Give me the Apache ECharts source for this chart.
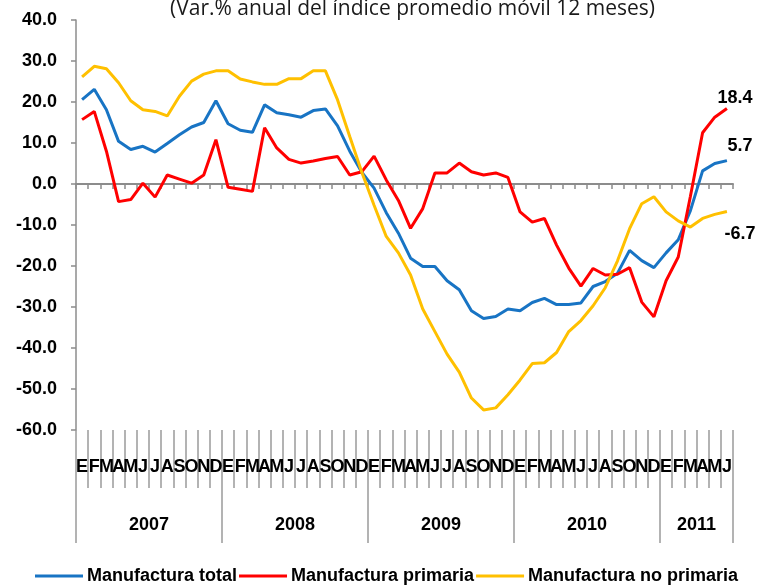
<!DOCTYPE html>
<html>
<head>
<meta charset="utf-8">
<script src="https://cdn.jsdelivr.net/npm/echarts@6/dist/echarts.min.js"></script>
<style>
html,body{margin:0;padding:0;background:#fff;}
#chart{width:757px;height:586px;}
</style>
</head>
<body>
<div id="chart"></div>
<script>
// meses ene-2007 .. jun-2011
const months = [
    'E','F','M','A','M','J','J','A','S','O','N','D',
    'E','F','M','A','M','J','J','A','S','O','N','D',
    'E','F','M','A','M','J','J','A','S','O','N','D',
    'E','F','M','A','M','J','J','A','S','O','N','D',
    'E','F','M','A','M','J'
];
const years = ['2007','2008','2009','2010','2011'];
const yTicks = [-60, -50, -40, -30, -20, -10, 0, 10, 20, 30, 40];

const manufTotal = [
    20.6, 23.1, 18.1, 10.4, 8.4, 9.2, 7.8, 9.9, 12.0, 13.9, 15.0, 20.3,
    14.7, 13.1, 12.6, 19.3, 17.4, 16.9, 16.3, 17.9, 18.3, 14.2, 8.0, 2.8,
    -1.0, -7.0, -12.0, -18.1, -20.1, -20.1, -23.6, -25.8, -30.9, -32.8, -32.3, -30.5,
    -30.9, -28.9, -27.9, -29.4, -29.4, -29.0, -25.0, -23.8, -21.8, -16.2, -18.7, -20.4,
    -16.8, -13.6, -6.5, 3.2, 5.0, 5.7
];
const manufPrimaria = [
    15.7, 17.7, 8.0, -4.3, -3.8, 0.2, -3.2, 2.2, 1.2, 0.2, 2.2, 10.8,
    -0.8, -1.3, -1.8, 13.7, 8.8, 6.0, 5.1, 5.6, 6.2, 6.7, 2.2, 3.0,
    6.8, 1.0, -4.0, -10.8, -6.0, 2.7, 2.7, 5.1, 3.0, 2.2, 2.7, 1.6,
    -6.8, -9.3, -8.4, -14.9, -20.5, -24.9, -20.6, -22.2, -22.0, -20.4, -28.8, -32.4,
    -23.6, -17.8, -3.0, 12.5, 16.3, 18.4
];
const manufNoPrimaria = [
    26.1, 28.7, 28.1, 24.7, 20.3, 18.1, 17.7, 16.6, 21.4, 25.1, 26.8, 27.6,
    27.6, 25.6, 24.9, 24.3, 24.3, 25.7, 25.7, 27.6, 27.6, 20.5, 11.6, 2.8,
    -5.2, -12.8, -16.8, -22.2, -30.5, -36.0, -41.5, -45.9, -52.2, -55.1, -54.6, -51.4,
    -47.8, -43.8, -43.6, -41.1, -36.0, -33.3, -29.7, -25.3, -18.8, -10.9, -4.8, -3.1,
    -6.8, -9.0, -10.5, -8.4, -7.4, -6.7
];

// limites de cada año sobre el eje (donde empieza enero)
const yearStart = [];
months.forEach(function (m, i) { if (m === 'E') yearStart.push(i); });
const yearBounds = yearStart.concat([months.length]);
const yearMid = yearStart.map(function (s, k) { return (s + yearBounds[k + 1]) / 2; });

const boldFont = "'Liberation Sans', Arial, sans-serif";
const last = months.length - 1;

function endMark(values, offset) {
    return {
        symbol: 'circle',
        symbolSize: 0,
        silent: true,
        label: {
            show: true,
            position: 'inside',
            offset: offset,
            color: '#000',
            fontFamily: boldFont,
            fontWeight: 'bold',
            fontSize: 18,
            formatter: function (p) { return p.value.toFixed(1); }
        },
        data: [{coord: [last, values[last]], value: values[last]}]
    };
}

const chart = echarts.init(document.getElementById('chart'));
chart.setOption({
    animation: false,
    title: {
        text: '(Var.% anual del índice promedio móvil 12 meses)',
        left: 170,
        top: -1,
        padding: 0,
        textStyle: {
            fontFamily: "'Open Sans', sans-serif",
            fontWeight: 'normal',
            fontSize: 21,
            color: '#1a1a1a'
        }
    },
    legend: {
        data: ['Manufactura total', 'Manufactura primaria', 'Manufactura no primaria'],
        left: 35,
        top: 567,
        icon: 'rect',
        itemWidth: 48,
        itemHeight: 3,
        itemGap: 2,
        padding: 0,
        textStyle: {
            fontFamily: boldFont,
            fontWeight: 'bold',
            fontSize: 18,
            color: '#000',
            padding: [0, 0, 0, -1]
        }
    },
    grid: {left: 76, right: 24, top: 20, bottom: 156, containLabel: false},
    xAxis: [
        {   // eje en cero
            type: 'category',
            data: months,
            axisLine: {show: true, onZero: true, lineStyle: {color: '#8c8c8c', width: 2}},
            axisTick: {show: true, interval: 0, length: 5, lineStyle: {color: '#8c8c8c', width: 1.5}},
            axisLabel: {show: false},
            splitLine: {show: false}
        },
        {   // meses abajo
            type: 'category',
            data: months,
            position: 'bottom',
            axisLine: {show: true, onZero: false, lineStyle: {color: 'rgba(0,0,0,0)'}},
            axisTick: {show: true, interval: 0, length: 58, lineStyle: {color: '#9a9a9a', width: 1.5}},
            axisLabel: {
                interval: 0,
                margin: 28,
                color: '#000',
                fontFamily: boldFont,
                fontWeight: 'bold',
                fontSize: 18
            },
            splitLine: {show: false}
        },
        {   // años
            type: 'value',
            min: 0,
            max: months.length,
            position: 'bottom',
            axisLine: {show: false, onZero: false},
            axisTick: {
                show: true,
                customValues: yearBounds,
                length: 113,
                lineStyle: {color: '#9a9a9a', width: 1.5}
            },
            axisLabel: {
                customValues: yearMid,
                margin: 86,
                color: '#000',
                fontFamily: boldFont,
                fontWeight: 'bold',
                fontSize: 18,
                formatter: function (v) { return years[yearMid.indexOf(v)]; }
            },
            splitLine: {show: false}
        }
    ],
    yAxis: {
        type: 'value',
        min: yTicks[0],
        max: yTicks[yTicks.length - 1],
        interval: 10,
        axisLine: {show: true, lineStyle: {color: '#8c8c8c', width: 1.5}},
        axisTick: {show: true, length: 5, lineStyle: {color: '#8c8c8c', width: 1.5}},
        axisLabel: {
            margin: 19,
            color: '#000',
            fontFamily: boldFont,
            fontWeight: 'bold',
            fontSize: 18,
            formatter: function (v) { return v.toFixed(1); }
        },
        splitLine: {show: false}
    },
    series: [
        {
            name: 'Manufactura total',
            type: 'line',
            data: manufTotal,
            showSymbol: false,
            lineStyle: {width: 3, color: '#1874c4'},
            itemStyle: {color: '#1874c4'},
            markPoint: endMark(manufTotal, [13, -15])
        },
        {
            name: 'Manufactura primaria',
            type: 'line',
            data: manufPrimaria,
            showSymbol: false,
            lineStyle: {width: 3, color: '#ff0000'},
            itemStyle: {color: '#ff0000'},
            markPoint: endMark(manufPrimaria, [8, -11])
        },
        {
            name: 'Manufactura no primaria',
            type: 'line',
            data: manufNoPrimaria,
            showSymbol: false,
            lineStyle: {width: 3, color: '#ffc000'},
            itemStyle: {color: '#ffc000'},
            markPoint: endMark(manufNoPrimaria, [13, 23])
        }
    ]
});
</script>
</body>
</html>
